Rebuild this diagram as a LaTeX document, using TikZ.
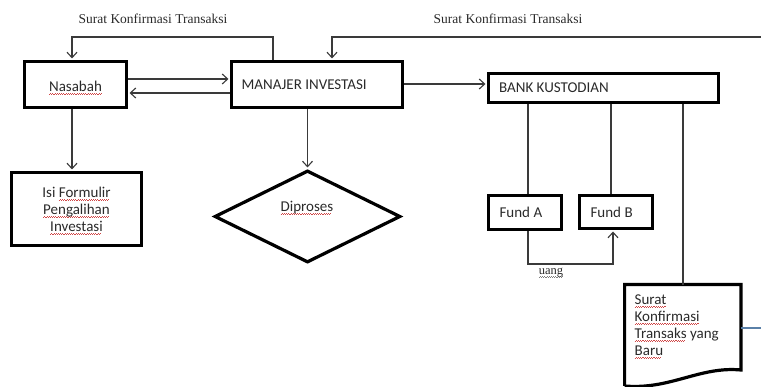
\documentclass[tikz,border=0pt]{standalone}
\usepackage{fontspec}
\setmainfont{Liberation Serif}
\newfontfamily\calfont{Carlito}
\usetikzlibrary{arrows.meta,shapes.geometric}
\definecolor{ln}{HTML}{3A3A3A}
\definecolor{tx}{HTML}{2A2A2A}
\definecolor{sqred}{HTML}{D04848}
\definecolor{blueln}{HTML}{5A80A8}
\newcommand\sqw[2][sqred]{\setbox0\hbox{#2}\rlap{\color{#1}\raisebox{-3pt}{\leaders\hbox{\rule{1.1pt}{0.6pt}\rule[0.7pt]{1.1pt}{0.6pt}}\hskip\wd0}}#2}
\tikzset{
  box/.style={draw=black, line width=3.2pt, inner sep=0pt, font=\calfont\fontsize{15}{17}\selectfont, text=tx},
  lbltxt/.style={font=\calfont\fontsize{15}{17}\selectfont, text=tx, inner sep=0pt},
  lbl/.style={font=\fontsize{13.5}{16}\selectfont, text=tx, inner sep=0pt},
  con/.style={draw=ln, line width=1.1pt},
  arr/.style={con, -{Straight Barb[length=5.5pt,width=10pt]}, shorten >=1.4pt},
  docline/.style={draw=black, line width=3.2pt},
  blueline/.style={draw=blueln, line width=1.1pt}
}
\begin{document}
\begin{tikzpicture}[x=1pt,y=-1pt]
\useasboundingbox (0,0) rectangle (761,387);
% boxes
\node[box, minimum width=102, minimum height=46] (nas) at (75.5,84.5) {};
\node[lbltxt] (nastx) at (75.5,88) {\sqw{Nasabah}};
\node[box, minimum width=171, minimum height=46,
      label={[lbltxt,anchor=west,xshift=11.5]west:MANAJER INVESTASI}] (mi) at (317,84.5) {};
\node[box, minimum width=230, minimum height=29,
      label={[lbltxt,anchor=west,xshift=12]west:BANK KUSTODIAN}] (bk) at (603.5,88) {};
\node[box, minimum width=130, minimum height=73] (isi) at (76.5,209) {};
\node[lbltxt, align=center] (isitx) at (76.5,211)
      {Isi \sqw{Formulir}\\\sqw{Pengalihan}\\\sqw{Investasi}};
\node[box, minimum width=73, minimum height=34,
      label={[lbltxt,anchor=west,xshift=12.5]west:Fund A}] (fa) at (525,212.5) {};
\node[box, minimum width=73, minimum height=33,
      label={[lbltxt,anchor=west,xshift=12.5]west:Fund B}] (fb) at (616,212) {};
\node[draw=black, line width=3.2pt, diamond, aspect=2, inner sep=0pt,
      minimum width=186, minimum height=92] (dia) at (307.5,216.5) {};
\node[lbltxt] (diatx) at (307,208) {\sqw{Diproses}};
% document shape
\node[inner sep=0pt, minimum width=116, minimum height=85, anchor=north west] (doc) at (624.6,284.6) {};
\draw[docline] (624.6,386) -- (doc.north west) -- (doc.north east) -- (doc.south east)
  .. controls (700,366) and (670,390) .. (624.6,386);
\node[lbltxt, anchor=north west, align=left] (doctx) at (634.5,294.5)
  {\sqw{Surat}\\\sqw{Konfirmasi}\\\sqw{Transaks} yang\\\sqw{Baru}};
% labels
\node[lbl] (t1) at (153,19) {Surat Konfirmasi Transaksi};
\node[lbl] (t2) at (508,19) {Surat Konfirmasi Transaksi};
\node[lbl, font=\fontsize{12.5}{15}\selectfont] (uang) at (551,273) {\sqw[gray]{uang}};
% helper coordinates
\coordinate (kA) at (72,37);
\coordinate (kB) at (273,37);
\coordinate (kC) at (332,37);
\coordinate (r1) at (761,37);
\coordinate (r2) at (761,328);
\coordinate (kD) at (528,264);
\coordinate (kE) at (613,264);
\coordinate (kF) at (440,84);
\coordinate (kG) at (611,150);
\coordinate (kH) at (683,150);
\coordinate (kI) at (300,79);
\coordinate (kJ) at (300,93);
% connectors
\draw[arr] (nas.east |- kI) -- (mi.west |- kI);
\draw[arr] (mi.west |- kJ) -- (nas.east |- kJ);
\draw[arr] (mi.north -| kB) -- (kB) -- (kA) -- (nas.north -| kA);
\draw[arr] (r1) -- (kC) -- (mi.north -| kC);
\draw[arr] (nas.south -| kA) -- (isi.north -| kA);
\draw[arr] (mi.south -| dia.north) -- (dia.north);
\draw[arr] (mi.east |- kF) -- (bk.west |- kF);
\draw[con] (bk.south -| kD) -- (fa.north -| kD);
\draw[con] (bk.south -| kG) -- (fb.north -| kG);
\draw[con] (bk.south -| kH) -- (doc.north -| kH);
\draw[arr] (fa.south -| kD) -- (kD) -- (kE) -- (fb.south -| kE);
\draw[blueline] (doc.east |- r2) -- (r2);
\end{tikzpicture}
\end{document}
